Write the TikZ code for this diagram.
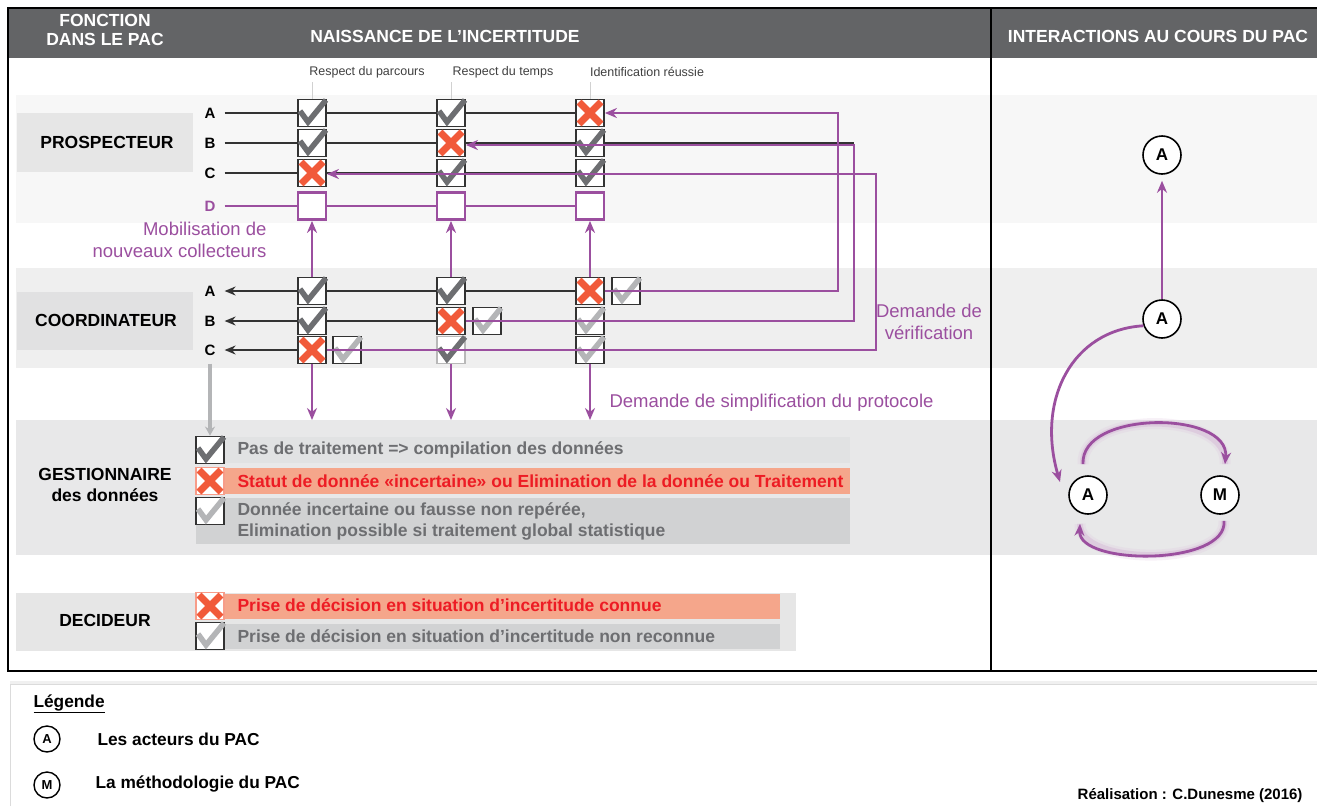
\documentclass[tikz,border=0pt]{standalone}
\usepackage{fontspec}
\setmainfont{Liberation Sans}
\usetikzlibrary{arrows.meta,calc}
\definecolor{hdr}{HTML}{636466}
\definecolor{purp}{HTML}{9B4F9F}
\definecolor{ckdark}{HTML}{6D6E71}
\definecolor{cklight}{HTML}{B4B5B7}
\definecolor{xred}{HTML}{F15A3A}
\definecolor{bandA}{HTML}{F7F7F7}
\definecolor{bandB}{HTML}{EFEFEF}
\definecolor{bandC}{HTML}{E8E8E9}
\definecolor{labA}{HTML}{E6E6E6}
\definecolor{labB}{HTML}{E1E1E2}
\definecolor{rowg}{HTML}{E1E2E3}
\definecolor{rows}{HTML}{F5A68B}
\definecolor{rowd}{HTML}{D1D2D3}
\definecolor{txtg}{HTML}{6D6E71}
\definecolor{txtr}{HTML}{ED1C24}
\pgfdeclarelayer{bands}\pgfdeclarelayer{lines}\pgfdeclarelayer{over}
\pgfsetlayers{bands,lines,main,over}
\newcommand\mkbox[4][cbox]{\node[#1] (#2) at (#3) {}; \pic at (#2) {#4};}
\tikzset{
  cbox/.style={draw=black!80, line width=1.8pt, fill=white, minimum width=28pt, minimum height=27pt, inner sep=0pt},
  cboxl/.style={cbox, draw=black!28},
  cboxs/.style={cbox, draw=xred!60},
  dbox/.style={cbox, draw=purp, line width=2.8pt},
  okd/.pic={\draw[line width=5.5pt, draw=ckdark, line join=miter] (-12,-2) -- (-4,9) -- (14,-13);},
  okl/.pic={\draw[line width=5.5pt, draw=cklight, line join=miter] (-12,-2) -- (-4,9) -- (14,-13);},
  ko/.pic={\draw[line width=7pt, draw=xred] (-11,-11) -- (11,11) (-11,11) -- (11,-11);},
  none/.pic={},
  lbl/.style={font=\fontsize{17.5}{21}\selectfont\bfseries},
  hdrtxt/.style={text=white, align=center, font=\fontsize{17.5}{19}\selectfont\bfseries},
  rowlet/.style={font=\fontsize{15}{15}\selectfont\bfseries, inner xsep=9pt, inner ysep=2pt},
  colhd/.style={font=\fontsize{12.5}{14}\selectfont, text=black!75},
  ptxt/.style={text=purp, align=center, font=\fontsize{18.5}{22}\selectfont},
  purpline/.style={draw=purp, line width=2.8pt},
  parrow/.style={purpline, -{Stealth[length=12pt,width=10pt]}},
  blk/.style={draw=black!80, line width=1.6pt},
  barrow/.style={blk, -{Stealth[length=11pt,width=9pt]}},
  circ/.style={circle, draw=black, line width=1.6pt, fill=white, minimum size=38pt, inner sep=0pt, font=\fontsize{17}{17}\selectfont\bfseries},
  lcirc/.style={circ, minimum size=26pt, line width=1.4pt, font=\fontsize{13}{13}\selectfont\bfseries},
  gtxt/.style={anchor=west, align=left, font=\fontsize{17.5}{21}\selectfont\bfseries},
  ltxt/.style={anchor=west, font=\fontsize{17.3}{17}\selectfont\bfseries},
  glowA/.style={draw=purp!35, line width=11pt, opacity=0.22},
  glowB/.style={draw=purp!50, line width=6pt, opacity=0.32},
}
\begin{document}
\begin{tikzpicture}[x=1pt,y=-1pt]
\useasboundingbox (0,0) rectangle (1317,806);
\begin{pgfonlayer}{bands}
  \fill[white] (0,0) rectangle (1317,806);
  % bands
  \fill[bandA] (16,95) rectangle (1317,223);
  \fill[bandB] (16,268) rectangle (1317,368);
  \fill[bandC] (16,420) rectangle (1317,555);
  \fill[labA] (16,593) rectangle (796,651);
  \fill[labA] (17,113) rectangle (193,172);
  \fill[labB] (17,292) rectangle (193,350);
  % gestionnaire rows
  \fill[rowg] (196,437) rectangle (850,463);
  \fill[rows] (196,468) rectangle (850,494);
  \fill[rowd] (196,498) rectangle (850,544);
  \fill[rows] (196,594) rectangle (780,619);
  \fill[rowd] (196,624) rectangle (780,649);
  % header
  \fill[hdr] (8,8) rectangle (1317,58);
  % legend box
  \fill[black!6] (10,681) rectangle (1317,685);
  \draw[black!14, line width=1pt] (10,806) -- (10,684) -- (1317,684);
\end{pgfonlayer}
% frame
\draw[black, line width=2.5pt] (1317,8) -- (8,8) -- (8,671) -- (1317,671);
\draw[black, line width=2.5pt] (991,8) -- (991,671);
% headers
\node[hdrtxt] (hF) at (105,30) {FONCTION\\DANS LE PAC};
\node[hdrtxt] (hN) at (445,36) {NAISSANCE DE L’INCERTITUDE};
\node[hdrtxt] (hI) at (1158,36) {INTERACTIONS AU COURS DU PAC};
\node[colhd] (c1h) at (367,72) {Respect du parcours};
\node[colhd] (c2h) at (503,72) {Respect du temps};
\node[colhd] (c3h) at (647,72) {Identification réussie};
% left labels
\node[lbl] (lP) at (107,142) {PROSPECTEUR};
\node[lbl] (lC) at (106,320) {COORDINATEUR};
\node[lbl, align=center] (lG) at (105,485) {GESTIONNAIRE\\des données};
\node[lbl] (lD) at (105,620) {DECIDEUR};
% row letters
\node[rowlet] (lpA) at (210,113) {A};
\node[rowlet] (lpB) at (210,143) {B};
\node[rowlet] (lpC) at (210,173) {C};
\node[rowlet, text=purp] (lpD) at (210,206) {D};
\node[rowlet] (lcA) at (210,291) {A};
\node[rowlet] (lcB) at (210,321) {B};
\node[rowlet] (lcC) at (210,350) {C};
% prospecteur boxes
\mkbox{pA1}{312,113}{okd}\mkbox{pA2}{451,113}{okd}\mkbox{pA3}{590,113}{ko}
\mkbox{pB1}{312,143}{okd}\mkbox{pB2}{451,143}{ko}\mkbox{pB3}{590,143}{okd}
\mkbox{pC1}{312,173}{ko}\mkbox{pC2}{451,173}{okd}\mkbox{pC3}{590,173}{okd}
\mkbox[dbox]{pD1}{312,206}{none}\mkbox[dbox]{pD2}{451,206}{none}\mkbox[dbox]{pD3}{590,206}{none}
% coordinateur boxes
\mkbox{cA1}{312,291}{okd}\mkbox{cA2}{451,291}{okd}\mkbox{cA3}{590,291}{ko}\mkbox{cAx}{626,291}{okl}
\mkbox{cB1}{312,321}{okd}\mkbox{cB2}{451,321}{ko}\mkbox{cB3}{590,321}{okl}\mkbox{cBx}{487,321}{okl}
\mkbox{cC1}{312,350}{ko}\mkbox[cboxl]{cC2}{451,350}{okd}\mkbox{cC3}{590,350}{okl}\mkbox{cCx}{347,350}{okl}
% gestionnaire / decideur boxes
\mkbox{gk1}{210,450}{okd}
\mkbox[cboxs]{gk2}{210,481}{ko}
\mkbox{gk3}{210,511}{okl}
\mkbox[cboxs]{dk1}{210,606}{ko}
\mkbox{dk2}{210,636}{okl}
% gestionnaire texts
\node[gtxt, text=txtg] (t1) at (234,450) {Pas de traitement => compilation des données};
\node[gtxt, text=txtr] (t2) at (234,481) {Statut de donnée «incertaine» ou Elimination de la donnée ou Traitement};
\node[gtxt, text=txtg] (t3) at (234,521) {Donnée incertaine ou fausse non repérée,\\Elimination possible si traitement global statistique};
\node[gtxt, text=txtr] (t4) at (234,605) {Prise de décision en situation d’incertitude connue};
\node[gtxt, text=txtg] (t5) at (234,636) {Prise de décision en situation d’incertitude non reconnue};
% purple texts
\node[ptxt, align=right, anchor=east] (mob) at (270,240) {Mobilisation de\\nouveaux collecteurs};
\node[ptxt] (ver) at (929,322) {Demande de\\vérification};
\node[ptxt, anchor=west] (simp) at (606,403) {Demande de simplification du protocole};
% black connectors
\begin{pgfonlayer}{lines}
  \foreach \c in {312,451,590} \draw[black!18, line width=0.6pt] (\c,82) -- (\c,99);
  \draw[blk] (lpA.east) -- (lpA.east -| pA3.west);
  \draw[blk] (lpB.east) -- (lpB.east -| 854,0);
  \draw[blk] (lpC.east) -- (lpC.east -| pC3.west);
  \draw[purpline] (lpD.east) -- (lpD.east -| pD3.west);
  \draw[barrow] (cA3.west) -- (cA3.west -| lcA.east);
  \draw[barrow] (cB2.west) -- (cB2.west -| lcB.east);
  \draw[barrow] (cC1.west) -- (cC1.west -| lcC.east);
\end{pgfonlayer}
% purple connectors
\begin{pgfonlayer}{over}
  \coordinate (k1) at (838,291);
  \coordinate (k2) at (854,321);
  \coordinate (k3) at (876,350);
  \draw[parrow] (cA3.east) -- (k1) |- (pA3.east);
  \draw[parrow] (cB2.east) -- (k2) |- ([yshift=-2pt]pB2.east);
  \draw[parrow] (cC1.east) -- (k3) |- ([yshift=-1pt]pC1.east);
  \draw[parrow] (cA1.north) -- (pD1.south);
  \draw[parrow] (cA2.north) -- (pD2.south);
  \draw[parrow] (cA3.north) -- (pD3.south);
  \coordinate (g1) at (312,420);
  \coordinate (g2) at (451,420);
  \coordinate (g3) at (590,420);
  \draw[parrow] (cC1.south) -- (g1);
  \draw[parrow] (cC2.south) -- (g2);
  \draw[parrow] (cC3.south) -- (g3);
  \draw[draw=cklight, line width=3.2pt, -{Stealth[length=9pt,width=10pt]}] ([yshift=-6pt]lcC.south) -- (gk1.north);
\end{pgfonlayer}
% right panel
\node[circ] (RA1) at (1162,155) {A};
\node[circ] (RA2) at (1162,319) {A};
\node[circ] (RA3) at (1088,495) {A};
\node[circ] (RM) at (1220,495) {M};
\draw[parrow] (RA2.north) -- ([yshift=-6pt]RA1.south);
\draw[parrow] (RA2.200) .. controls (1072,330) and (1036,400) .. ($(RA3)+(-28,-13)$);
\path[glowA] ($(RA3.north)+(-5,-11)$) .. controls (1080,410) and (1230,410) .. ($(RM.north)+(5,-11)$);
\path[glowB] ($(RA3.north)+(-5,-11)$) .. controls (1080,410) and (1230,410) .. ($(RM.north)+(5,-11)$);
\draw[parrow] ($(RA3.north)+(-5,-11)$) .. controls (1080,410) and (1230,410) .. ($(RM.north)+(5,-11)$);
\path[glowA] ($(RM.south)+(4,6)$) .. controls (1228,566) and (1078,566) .. ($(RA3.south)+(-8,9)$);
\path[glowB] ($(RM.south)+(4,6)$) .. controls (1228,566) and (1078,566) .. ($(RA3.south)+(-8,9)$);
\draw[parrow] ($(RM.south)+(4,6)$) .. controls (1228,566) and (1078,566) .. ($(RA3.south)+(-8,9)$);
% legend
\node[ltxt] (leg) at (30,704) {\underline{Légende}};
\node[lcirc] (LA) at (47,739) {A};
\node[ltxt] (LAt) at (94,739) {Les acteurs du PAC};
\node[lcirc] (LM) at (47,785) {M};
\node[ltxt] (LMt) at (92,784) {La méthodologie du PAC};
\node[anchor=east, font=\fontsize{15}{15}\selectfont\bfseries] (real) at (1306,796) {Réalisation : C.Dunesme (2016)};
\end{tikzpicture}
\end{document}
